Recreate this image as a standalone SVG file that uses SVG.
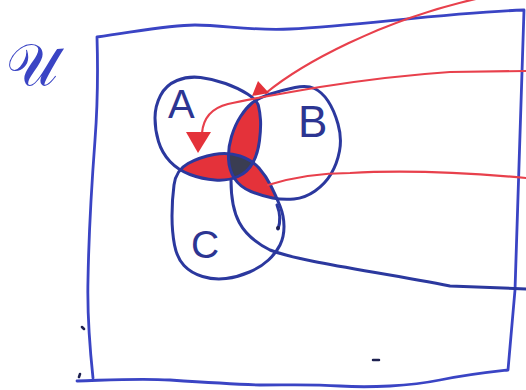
<svg xmlns="http://www.w3.org/2000/svg" width="526" height="390" viewBox="0 0 526 390">
<style>
.frame{fill:none;stroke:#3a44c4;stroke-width:2.8;stroke-linecap:round;stroke-linejoin:round}
.ring{fill:none;stroke:#2b389e;stroke-width:3;stroke-linecap:round;stroke-linejoin:round}
.red{fill:none;stroke:#e8404c;stroke-width:2.2;stroke-linecap:round}
.redfill{fill:#e4323a}
.dark{fill:#3a3d52}
.lbl{font-family:"Liberation Sans",Arial,sans-serif;fill:#2c3592}
.mark{fill:none;stroke:#1e2150;stroke-width:2.5;stroke-linecap:round}
</style>
<defs>
<path id="pA" d="M247.5,94 Q238,88 225.5,83.5 Q213,79 200.5,77.5 Q188,76 177,80.5 Q166,85 160.5,95.5 Q155,106 155,118 Q155,130 158.5,141.5 Q162,153 170,161.5 Q178,170 190,174.5 Q202,179 215,180 Q228,181 238,176.5 Q248,172 253,162.5 Q258,153 259.5,140.5 Q261,128 260.5,120 Q260,112 258.5,106 Q257,100 247.5,94 Z"/>
<path id="pB" d="M270.5,94 Q283,90 295,87.5 Q307,85 314.5,88.5 Q322,92 328,101 Q334,110 338,124 Q342,138 339.5,151 Q337,164 331,174 Q325,184 315,191 Q305,198 294,199 Q283,200 272.5,198 Q262,196 251,191.5 Q240,187 234.5,178.5 Q229,170 228.5,159 Q228,148 231.5,136.5 Q235,125 240.5,116.5 Q246,108 252,103 Q258,98 270.5,94 Z"/>
<path id="pC" d="M188,163.5 Q200,157 214,154.5 Q228,152 240,156 Q252,160 259,168 Q266,176 271,186 Q276,196 280,206 Q284,216 284,226.5 Q284,237 280,245 Q276,253 268.5,260 Q261,267 249.5,272 Q238,277 226,278.5 Q214,280 202.5,276.5 Q191,273 184,265.5 Q177,258 174.5,245 Q172,232 172,216 Q172,200 174,185 Q176,170 188,163.5 Z"/>
<clipPath id="cA"><use href="#pA"/></clipPath>
<clipPath id="cB"><use href="#pB"/></clipPath>
</defs>

<g id="universe">
<path class="frame" d="M97,37 C140,31 170,25 195,25 C225,25 250,31 290,29 C360,26 440,13 524,10 C521,100 518,200 515,290 L508,370 C490,372 470,374 440,380 C410,386 370,388 340,386 C310,384 290,385 260,385 C230,384 200,382 170,380 C140,378 110,380 77,381 M93,378 C90,350 87,320 88,280 C89,220 92,180 95,140 C98,100 98,70 97,37"/>
<text x="6" y="85" font-size="58" style="font-family:'DejaVu Serif',serif;fill:#3a44c4">𝒰</text>
<path class="mark" d="M82,327 l2,2 M80,374 l-1,3 M373,360 l6,0"/>
</g>

<g id="regions">
<use href="#pB" class="redfill" clip-path="url(#cA)"/>
<use href="#pC" class="redfill" clip-path="url(#cA)"/>
<use href="#pC" class="redfill" clip-path="url(#cB)"/>
<g clip-path="url(#cA)"><use href="#pC" class="dark" clip-path="url(#cB)"/></g>
</g>

<g id="setA">
<use href="#pA" class="ring"/>
<text class="lbl" x="168" y="118" font-size="40">A</text>
</g>
<g id="setB">
<use href="#pB" class="ring"/>
<text class="lbl" x="298" y="137" font-size="44">B</text>
</g>
<g id="setC">
<use href="#pC" class="ring"/>
<path class="ring" d="M277,205 Q282,218 278,229"/>
<circle cx="278" cy="228" r="2" fill="#1e2150"/>
<text class="lbl" x="191" y="258" font-size="39">C</text>
</g>

<g id="connectors">
<path class="red" d="M202,133 Q204,110 228,104 Q255,98 320,87 Q390,76 450,72 L526,71"/>
<polygon class="redfill" points="186,132 211,132 198,153"/>
<path class="red" d="M266,93 C300,65 380,20 480,-2"/>
<polygon class="redfill" points="258,81 252,96 269,93"/>
<path class="red" d="M268,185 C300,175 330,173 350,173 C400,170 460,172 526,178"/>
<path class="ring" d="M231,180 C231,215 240,235 270,250 C300,262 380,272 450,286 L526,289"/>
</g>
</svg>
